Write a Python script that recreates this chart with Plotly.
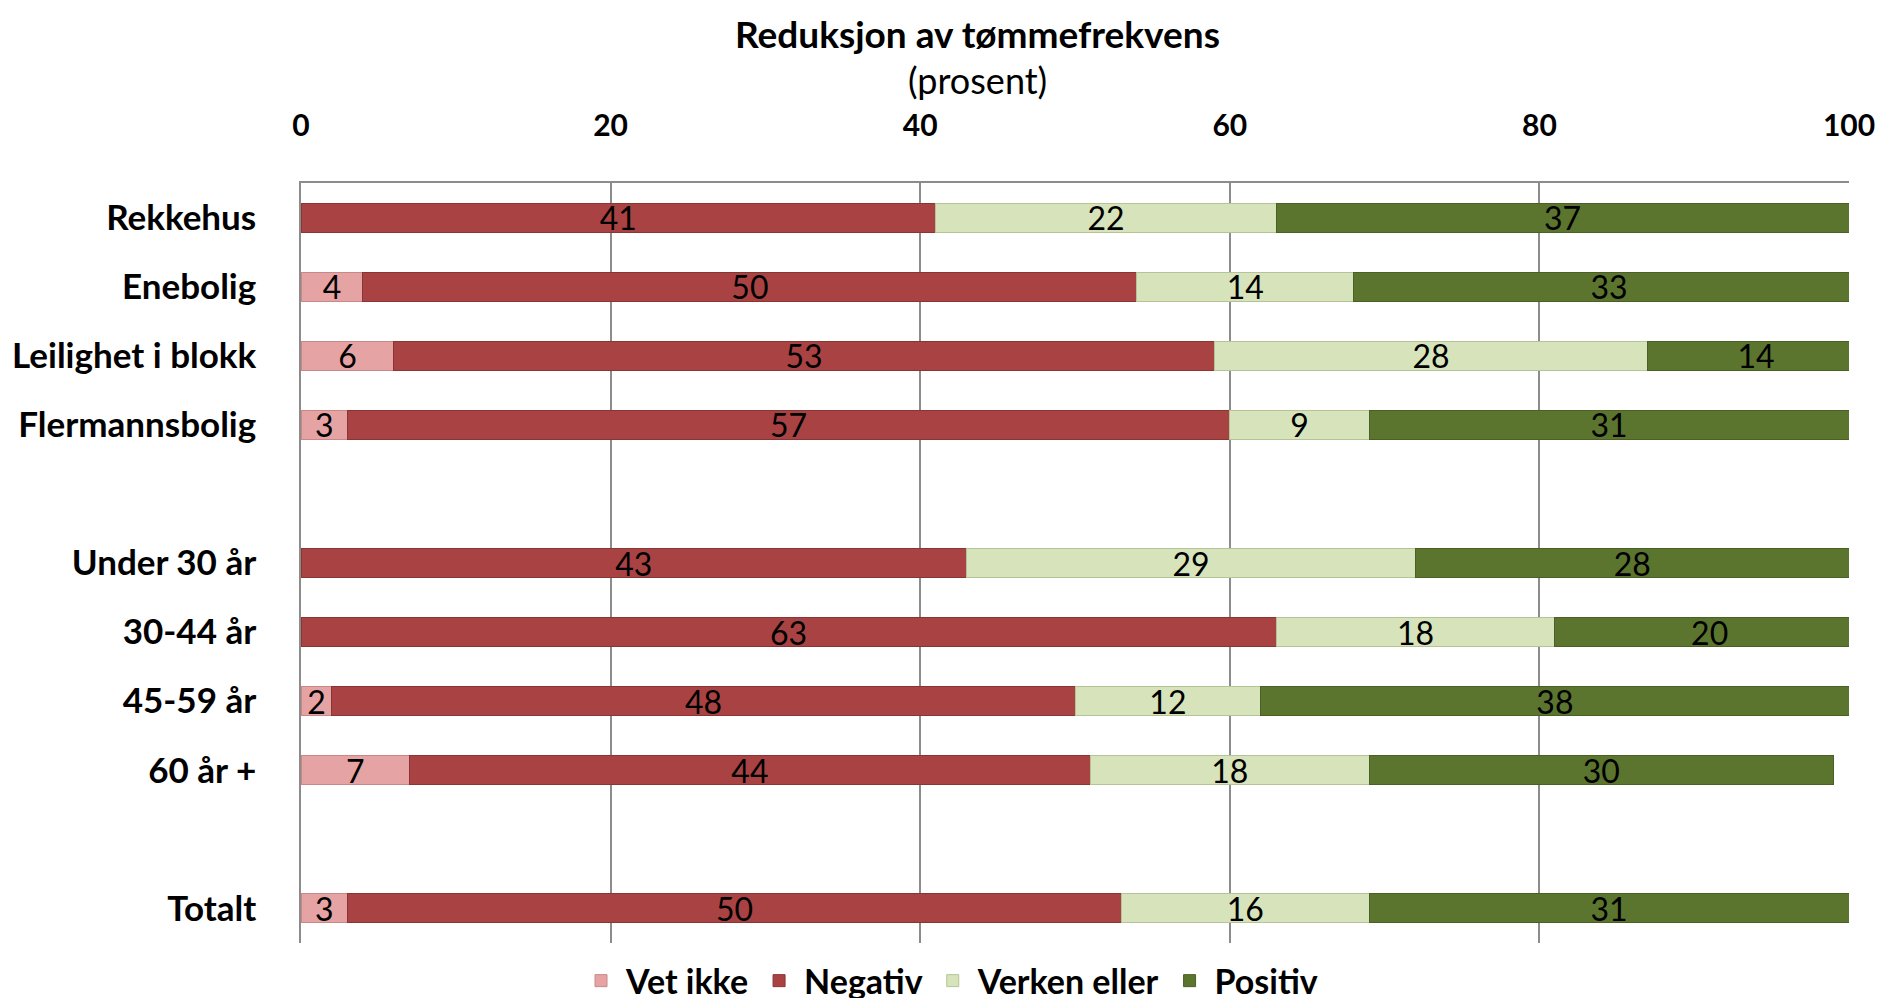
import plotly.graph_objects as go

# categories top to bottom (blank rows are spacers)
categories = ["Rekkehus", "Enebolig", "Leilighet i blokk", "Flermannsbolig", " ",
              "Under 30 år", "30-44 år", "45-59 år", "60 år +", "  ", "Totalt"]

vet_ikke = [0, 4, 6, 3, None, 0, 0, 2, 7, None, 3]
negativ = [41, 50, 53, 57, None, 43, 63, 48, 44, None, 50]
verken = [22, 14, 28, 9, None, 29, 18, 12, 18, None, 16]
positiv = [37, 33, 14, 31, None, 28, 20, 38, 30, None, 31]

x_ticks = [0, 20, 40, 60, 80, 100]

series = [
    ("Vet ikke", vet_ikke, "#E6A3A3", "#C98888"),
    ("Negativ", negativ, "#A94343", "#8A3434"),
    ("Verken eller", verken, "#D7E4BB", "#B5C496"),
    ("Positiv", positiv, "#5B752F", "#4A6025"),
]

FONT = "Lato"

fig = go.Figure()
for name, vals, color, edge in series:
    labels = ["" if (v is None or v == 0) else str(v) for v in vals]
    fig.add_trace(go.Bar(
        y=categories,
        x=vals,
        name=name,
        orientation="h",
        marker=dict(color=color, line=dict(color=edge, width=1)),
        text=labels,
        textposition="inside",
        insidetextanchor="middle",
        textangle=0,
        textfont=dict(family=FONT, size=32, color="black"),
        constraintext="none",
        cliponaxis=True,
    ))

# the page body adds an 8px offset, margins below compensate for it
fig.update_layout(
    width=1883,
    height=998,
    barmode="stack",
    bargap=0.58,
    plot_bgcolor="white",
    paper_bgcolor="white",
    margin=dict(l=293, r=42, t=175, b=63, autoexpand=False),
    font=dict(family=FONT, color="black"),
    legend=dict(
        orientation="h",
        xref="container", yref="container",
        x=0.5, xanchor="center",
        y=0.025, yanchor="middle",
        font=dict(family=FONT, size=34, color="black", weight="bold"),
        traceorder="normal",
        itemwidth=40,
    ),
    xaxis=dict(
        side="top",
        range=[0, 100],
        tickvals=x_ticks,
        showgrid=True,
        gridcolor="#8C8C8C",
        gridwidth=1.5,
        showline=True,
        linecolor="#8C8C8C",
        linewidth=1.5,
        zeroline=False,
        ticks="",
        ticklabelstandoff=33,
        tickfont=dict(family=FONT, size=30, color="black", weight="bold"),
        automargin=False,
        fixedrange=True,
    ),
    yaxis=dict(
        categoryorder="array",
        categoryarray=categories,
        autorange="reversed",
        showgrid=False,
        showline=True,
        linecolor="#8C8C8C",
        linewidth=1.5,
        ticks="",
        ticklabelstandoff=36,
        tickfont=dict(family=FONT, size=35, color="black", weight="bold"),
        automargin=False,
        fixedrange=True,
    ),
    annotations=[
        dict(text="<b>Reduksjon av tømmefrekvens</b>", xref="paper", yref="paper",
             x=0.437, y=1.197, xanchor="center", yanchor="middle", showarrow=False,
             font=dict(family=FONT, size=37, color="black")),
        dict(text="(prosent)", xref="paper", yref="paper",
             x=0.437, y=1.136, xanchor="center", yanchor="middle", showarrow=False,
             font=dict(family=FONT, size=36, color="black")),
    ],
)

fig.write_html("out.html")
